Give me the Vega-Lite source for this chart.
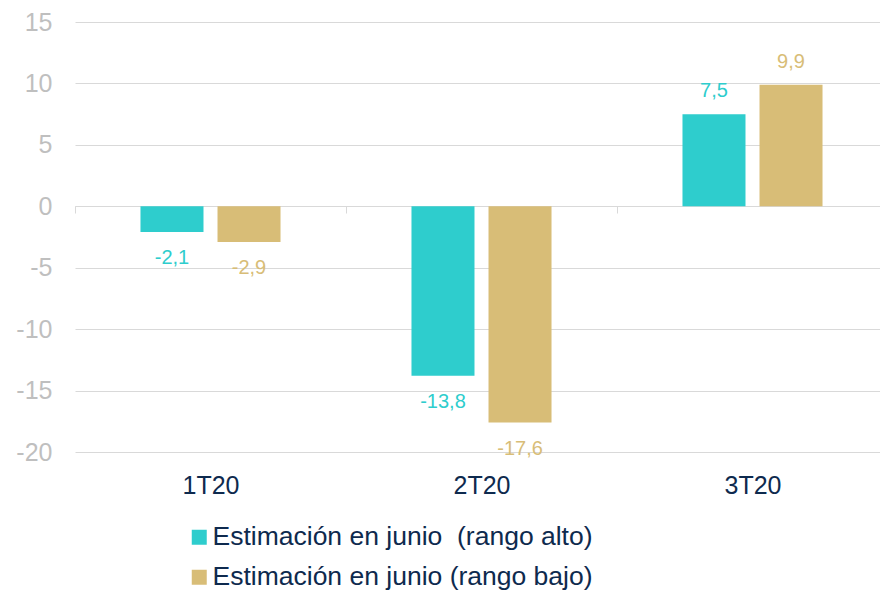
{
  "$schema": "https://vega.github.io/schema/vega-lite/v6.json",
  "width": 813,
  "height": 430,
  "autosize": {"type": "none"},
  "padding": {"left": 75, "top": 22, "right": -8, "bottom": 138},
  "background": "white",
  "config": {
    "font": "Liberation Sans",
    "view": {"stroke": null},
    "locale": {"number": {"decimal": ",", "thousands": ".", "grouping": [3], "currency": ["", " €"], "minus": "-"}}
  },
  "data": {
    "values": [
      {"q": "1T20", "serie": "Estimación en junio\u00a0 (rango alto)", "value": -2.1},
      {"q": "1T20", "serie": "Estimación en junio (rango bajo)", "value": -2.9},
      {"q": "2T20", "serie": "Estimación en junio\u00a0 (rango alto)", "value": -13.8},
      {"q": "2T20", "serie": "Estimación en junio (rango bajo)", "value": -17.6},
      {"q": "3T20", "serie": "Estimación en junio\u00a0 (rango alto)", "value": 7.5},
      {"q": "3T20", "serie": "Estimación en junio (rango bajo)", "value": 9.9}
    ]
  },
  "encoding": {
    "x": {
      "field": "q", "type": "nominal", "title": null,
      "scale": {"paddingInner": 0, "paddingOuter": 0},
      "axis": {
        "orient": "bottom", "offset": -246, "labelAngle": 0,
        "domainColor": "#D9D9D9", "tickColor": "#D9D9D9", "tickSize": 7,
        "tickBand": "extent", "labelPadding": 260,
        "labelFontSize": 25, "labelColor": "#0E2A4E", "labelBaseline": "top"
      }
    },
    "xOffset": {
      "field": "serie", "type": "nominal",
      "sort": ["Estimación en junio\u00a0 (rango alto)", "Estimación en junio (rango bajo)"],
      "scale": {"paddingInner": 0.182, "paddingOuter": 0.85}
    },
    "y": {
      "field": "value", "type": "quantitative", "title": null,
      "scale": {"domain": [-20, 15], "nice": false},
      "axis": {
        "values": [-20, -15, -10, -5, 0, 5, 10, 15],
        "domain": false, "ticks": false, "labelPadding": 23,
        "labelFontSize": 25, "labelColor": "#BFBFBF",
        "gridColor": "#D9D9D9", "gridWidth": 1
      }
    }
  },
  "layer": [
    {
      "mark": {"type": "bar"},
      "encoding": {
        "color": {
          "field": "serie", "type": "nominal",
          "scale": {
            "domain": ["Estimación en junio\u00a0 (rango alto)", "Estimación en junio (rango bajo)"],
            "range": ["#2ECDCD", "#D8BD77"]
          },
          "legend": {
            "title": null, "orient": "none", "legendX": 111, "legendY": 502,
            "direction": "vertical", "symbolType": "square", "symbolSize": 225,
            "symbolStrokeWidth": 0, "labelFontSize": 26.5, "labelColor": "#0E2A4E",
            "labelOffset": 0, "rowPadding": 13, "labelLimit": 700
          }
        }
      }
    },
    {
      "transform": [{"filter": "datum.value < 0"}],
      "mark": {"type": "text", "baseline": "middle", "dy": 26, "fontSize": 20},
      "encoding": {
        "text": {"field": "value", "type": "quantitative", "format": ".1f"},
        "color": {"field": "serie", "type": "nominal", "legend": null}
      }
    },
    {
      "transform": [{"filter": "datum.value >= 0"}],
      "mark": {"type": "text", "baseline": "middle", "dy": -23, "fontSize": 20},
      "encoding": {
        "text": {"field": "value", "type": "quantitative", "format": ".1f"},
        "color": {"field": "serie", "type": "nominal", "legend": null}
      }
    }
  ]
}
